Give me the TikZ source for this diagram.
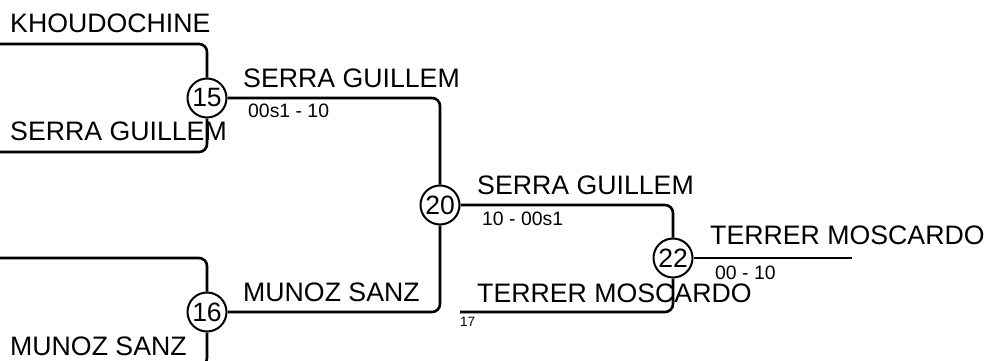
\documentclass[tikz,border=0pt]{standalone}
\usepackage{fontspec}
\setmainfont{Liberation Sans}
\begin{document}
\begin{tikzpicture}[x=1pt,y=-1pt,
  wire/.style={line width=2.6pt, rounded corners=8pt},
  match/.style={circle, draw, line width=2pt, fill=white, minimum size=39pt, inner sep=0pt, font=\fontsize{26.5}{26.5}\selectfont},
  big/.style={anchor=base west, inner sep=0pt, font=\fontsize{26.7}{30}\selectfont},
  small/.style={anchor=base west, inner sep=0pt, font=\fontsize{19.4}{22}\selectfont},
  tiny/.style={anchor=base west, inner sep=0pt, font=\fontsize{13.5}{15}\selectfont}]
\useasboundingbox (0,0) rectangle (990,361);
\clip (0,0) rectangle (990,361);
% match circles
\node[match] (m15) at (207,98) {15};
\node[match] (m16) at (207,312) {16};
\node[match] (m20) at (440,205) {20};
\node[match] (m22) at (673,258) {22};
% free ends
\coordinate (a1) at (0,44);
\coordinate (a2) at (0,152);
\coordinate (a3) at (0,258);
\coordinate (a4) at (0,366);
\coordinate (c17) at (460,312);
\coordinate (fin) at (852,258);
% connectors
\draw[wire] (a1) -| (m15.north);
\draw[wire] (a2) -| (m15.south);
\draw[wire] (a3) -| (m16.north);
\draw[wire] (a4) -| (m16.south);
\draw[wire] (m15.east) -| (m20.north);
\draw[wire] (m16.east) -| (m20.south);
\draw[wire] (m20.east) -| (m22.north);
\draw[wire] (c17) -| (m22.south);
\draw[wire] (m22.east) -- (fin);
% labels
\node[big] (t1) at (10,33) {KHOUDOCHINE};
\node[big] (t2) at (10,140) {SERRA GUILLEM};
\node[big] (t3) at (10,355) {MUNOZ SANZ};
\node[big] (t4) at (243,87) {SERRA GUILLEM};
\node[small] (s4) at (248,117) {00s1 - 10};
\node[big] (t5) at (243,301) {MUNOZ SANZ};
\node[big] (t6) at (477,194) {SERRA GUILLEM};
\node[small] (s6) at (482,225) {10 - 00s1};
\node[big] (t7) at (477,302) {TERRER MOSCARDO};
\node[tiny] (n17) at (460,326) {17};
\node[big] (t8) at (710,244) {TERRER MOSCARDO};
\node[small] (s8) at (715,279) {00 - 10};
\end{tikzpicture}
\end{document}
